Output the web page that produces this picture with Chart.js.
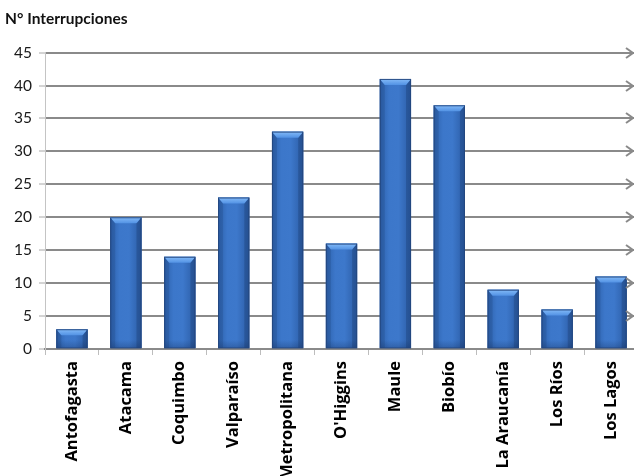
<!DOCTYPE html>
<html>
<head>
<meta charset="utf-8">
<script src="https://cdn.jsdelivr.net/npm/chart.js@4/dist/chart.umd.min.js"></script>
<style>
  html, body { margin: 0; padding: 0; background: #ffffff; overflow: hidden; }
  #wrap { width: 634px; height: 476px; overflow: hidden; position: relative; }
  canvas { display: block; }
</style>
</head>
<body>
<div id="wrap"><canvas id="c" width="638" height="476"></canvas></div>
<script>
// Interrupciones por región
const regiones = ['Antofagasta', 'Atacama', 'Coquimbo', 'Valparaíso', 'Metropolitana',
                  "O'Higgins", 'Maule', 'Biobío', 'La Araucanía', 'Los Ríos', 'Los Lagos'];
const interrupciones = [3, 20, 14, 23, 33, 16, 41, 37, 9, 6, 11];
const ejeY = { min: 0, max: 45, paso: 5 };
const tituloEje = 'N° Interrupciones';

// Bevelled, shaded look for each bar, drawn over the library's bar elements
const barShading = {
  id: 'barShading',
  afterDatasetsDraw(chart) {
    const ctx = chart.ctx;
    chart.getDatasetMeta(0).data.forEach(bar => {
      const x0 = bar.x - bar.width / 2, x1 = bar.x + bar.width / 2;
      const y0 = bar.y, yb = bar.base;
      const b = 5;
      ctx.save();
      // body gradient, darker at the sides
      const g = ctx.createLinearGradient(x0, 0, x1, 0);
      g.addColorStop(0, '#2d61ab');
      g.addColorStop(0.3, '#3c77ca');
      g.addColorStop(0.6, '#3d78cb');
      g.addColorStop(1, '#2b5ca5');
      ctx.fillStyle = g;
      ctx.fillRect(x0, y0, x1 - x0, yb - y0);
      // side bevels
      ctx.fillStyle = 'rgba(20,45,90,0.16)';
      ctx.beginPath();
      ctx.moveTo(x0, y0); ctx.lineTo(x0 + b, y0 + b + 1); ctx.lineTo(x0 + b, yb); ctx.lineTo(x0, yb);
      ctx.closePath(); ctx.fill();
      ctx.fillStyle = 'rgba(20,45,90,0.26)';
      ctx.beginPath();
      ctx.moveTo(x1, y0); ctx.lineTo(x1 - b, y0 + b + 1); ctx.lineTo(x1 - b, yb); ctx.lineTo(x1, yb);
      ctx.closePath(); ctx.fill();
      // bottom darkening
      const gb = ctx.createLinearGradient(0, yb - 8, 0, yb);
      gb.addColorStop(0, 'rgba(20,45,90,0)');
      gb.addColorStop(1, 'rgba(20,45,90,0.3)');
      ctx.fillStyle = gb;
      ctx.fillRect(x0, Math.max(y0, yb - 8), x1 - x0, Math.min(8, yb - y0));
      // top bevel
      const gt = ctx.createLinearGradient(0, y0, 0, y0 + b + 1);
      gt.addColorStop(0, '#84bbf8');
      gt.addColorStop(1, '#5292e4');
      ctx.fillStyle = gt;
      ctx.beginPath();
      ctx.moveTo(x0, y0); ctx.lineTo(x1, y0); ctx.lineTo(x1 - b, y0 + b + 1); ctx.lineTo(x0 + b, y0 + b + 1);
      ctx.closePath(); ctx.fill();
      // outline
      ctx.strokeStyle = 'rgba(35,70,125,0.9)';
      ctx.lineWidth = 1;
      ctx.strokeRect(x0 + 0.5, y0 + 0.5, x1 - x0 - 1, yb - y0 - 0.5);
      ctx.restore();
    });
  }
};

// Open arrowheads at the right end of each gridline
const gridArrows = {
  id: 'gridArrows',
  afterDraw(chart) {
    const ctx = chart.ctx;
    const ys = chart.scales.y;
    const tip = 633;
    ctx.save();
    ctx.strokeStyle = '#8a8a8a';
    ctx.lineWidth = 2;
    ys.ticks.forEach(t => {
      if (t.value === ejeY.min) return;
      const y = Math.round(ys.getPixelForValue(t.value));
      ctx.beginPath();
      ctx.moveTo(tip - 7, y - 5);
      ctx.lineTo(tip, y);
      ctx.lineTo(tip - 7, y + 5);
      ctx.stroke();
    });
    ctx.restore();
  }
};

new Chart(document.getElementById('c'), {
  type: 'bar',
  data: {
    labels: regiones,
    datasets: [{
      data: interrupciones,
      backgroundColor: '#3a73c4',
      borderWidth: 0,
      categoryPercentage: 1,
      barPercentage: 0.58
    }]
  },
  options: {
    responsive: false,
    animation: false,
    layout: { padding: { left: 5, right: 0, top: 0, bottom: 0 } },
    plugins: {
      legend: { display: false },
      tooltip: { enabled: false },
      title: {
        display: true,
        text: tituloEje,
        align: 'start',
        color: '#111',
        font: { family: 'Lato', weight: 'bold', size: 15.5 },
        padding: { top: 10, bottom: 24 }
      }
    },
    scales: {
      x: {
        grid: {
          offset: true,
          drawOnChartArea: false,
          drawTicks: true,
          tickLength: 6,
          color: '#bdbdbd',
          lineWidth: 1
        },
        border: { display: true, color: '#8a8a8a', width: 2 },
        ticks: {
          color: '#000',
          font: { family: 'Open Sans', weight: 'bold', size: 16.5 },
          minRotation: 90,
          maxRotation: 90,
          autoSkip: false,
          padding: 6
        },
        afterFit(scale) { scale.height = 127; }
      },
      y: {
        min: ejeY.min,
        max: ejeY.max,
        grid: {
          color: '#8a8a8a',
          lineWidth: 2,
          tickLength: 6,
          tickColor: '#a8a8a8',
          tickWidth: 1
        },
        border: { display: true, color: '#c4c4c4', width: 1 },
        ticks: {
          stepSize: ejeY.paso,
          color: '#1a1a1a',
          font: { family: 'Lato', size: 15.5 },
          padding: 7
        },
        afterFit(scale) { scale.width = 40; }
      }
    }
  },
  plugins: [barShading, gridArrows]
});
</script>
</body>
</html>
